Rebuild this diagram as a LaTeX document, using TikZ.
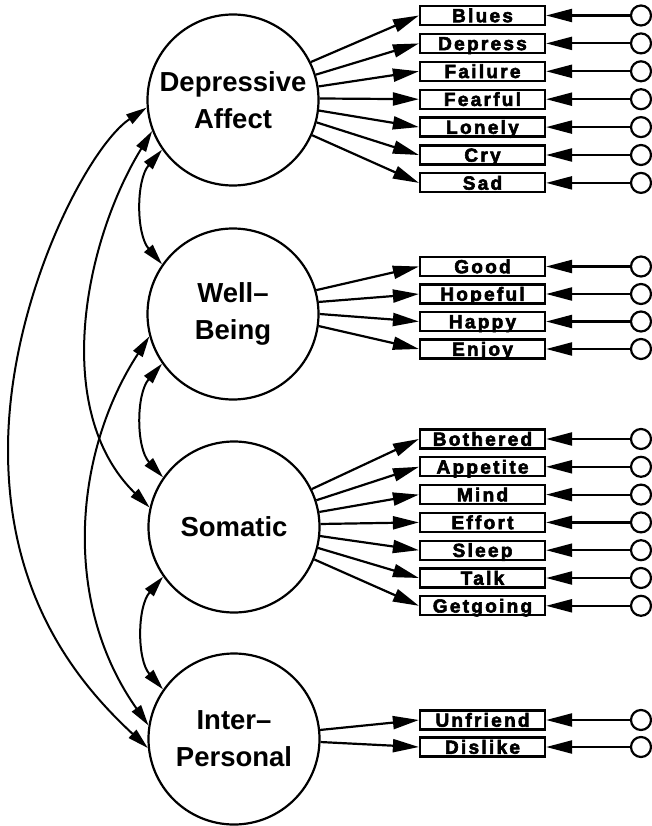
\documentclass[tikz,border=0pt]{standalone}
\usepackage{fontspec}
\setmainfont{Liberation Sans}
\newfontfamily\latfont{Liberation Sans}
\newfontfamily\indfont{Liberation Sans}[LetterSpace=12, BoldFeatures={FakeBold=3}]
\usetikzlibrary{arrows.meta}

\tikzset{
  latent/.style={circle, draw, line width=2.2pt, minimum size=171pt, inner sep=0pt,
    align=center, font=\latfont\bfseries\fontsize{27.5}{37}\selectfont},
  indicator/.style={rectangle, draw, line width=2.2pt, minimum width=125pt, minimum height=19pt,
    inner sep=0pt, text height=13.5pt, text depth=0pt,
    font=\indfont\bfseries\fontsize{19}{19}\selectfont},
  residual/.style={circle, draw, line width=2.2pt, minimum size=20pt, inner sep=0pt},
  loading/.style={line width=2.2pt, -{Triangle[length=26pt,width=13pt]}},
  corr/.style={line width=2pt, {Triangle[length=21pt,width=11pt]}-{Triangle[length=21pt,width=11pt]}}
}

\begin{document}
\begin{tikzpicture}[x=1pt, y=-1pt]
\useasboundingbox (0,0) rectangle (652,826);

% latent factors
\node[latent] (DA) at (233,100) {Depressive\\Affect};
\node[latent] (WB) at (233,314) {Well\textendash\\Being};
\node[latent] (SO) at (234,527) {Somatic};
\node[latent] (IP) at (234,739) {Inter\textendash\\Personal};

% indicators, their residuals and the loadings
\foreach \f/\items in {
  DA/{Blues/15.5/26, Depress/43.4/17, Failure/71.3/9, Fearful/99.2/1, Lonely/127.1/-7, Cry/155/-15, Sad/182.9/-24},
  WB/{Good/266.5/16, Hopeful/294/8, Happy/321.5/0, Enjoy/349/-8},
  SO/{Bothered/439/26, Appetite/466.8/18, Mind/494.6/10, Effort/522.4/2, Sleep/550.2/-6, Talk/578/-14, Getgoing/605.8/-22},
  IP/{Unfriend/720/6, Dislike/747/-2}} {
  \foreach \name/\y/\ang in \items {
    \node[indicator] (\name) at (482.5,\y) {\name};
    \node[residual] (e\name) at (641,\y) {};
    \draw[loading] (\f.\ang) -- (\name.west);
    \draw[loading] (e\name.west) -- (\name.east);
  }
}

% factor covariances
\draw[corr] (DA.215) .. controls (136,180) and (136,234) .. (WB.145);
\draw[corr] (WB.215) .. controls (136,394) and (136,448) .. (SO.145);
\draw[corr] (SO.215) .. controls (137,607) and (137,660) .. (IP.145);
\draw[corr] (DA.201) .. controls (85,240) and (50,410) .. (SO.167);
\draw[corr] (WB.195) .. controls (75,450) and (60,600) .. (IP.171);
\coordinate (farleft) at (8,450);
\draw[corr] (DA.185) .. controls (88,147) and (8,300) .. (farleft)
  .. controls (8,600) and (80,685) .. (IP.186);
\end{tikzpicture}
\end{document}
